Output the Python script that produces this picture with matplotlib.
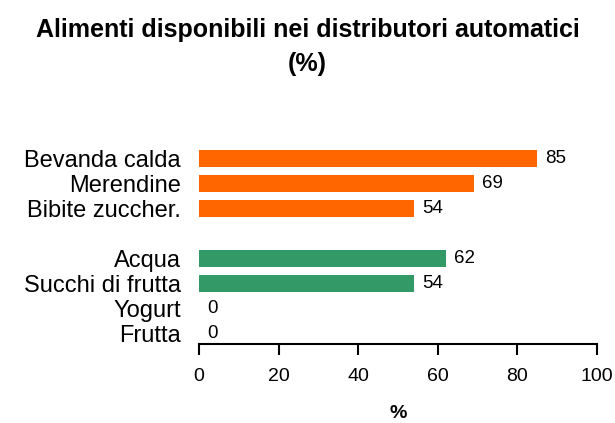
import matplotlib
matplotlib.use("Agg")
import matplotlib.pyplot as plt

categories = ["Bevanda calda", "Merendine", "Bibite zuccher.", "Acqua", "Succhi di frutta", "Yogurt", "Frutta"]
values = [85, 69, 54, 62, 54, 0, 0]
colors = ["#FF6600", "#FF6600", "#FF6600", "#339966", "#339966", "#339966", "#339966"]
positions = [0, 1, 2, 4, 5, 6, 7]
xticks = [0, 20, 40, 60, 80, 100]

plt.rcParams['font.family'] = ['Liberation Sans', 'DejaVu Sans']

fig = plt.figure(figsize=(6.15, 4.23), dpi=100)
ax = fig.add_axes([0.3236, 0.1868, 0.6471, 0.4728])

ax.barh(positions, values, height=0.68, color=colors)
for p, v in zip(positions, values):
    ax.text(v + 2, p, f"{v}", va="center", ha="left", fontsize=13.5)

ax.set_ylim(7.4, -0.6)
ax.set_xlim(0, 100)
ax.set_yticks(positions)
ax.set_yticklabels(categories, fontsize=17)
ax.tick_params(axis="y", length=0, pad=13)
ax.set_xticks(xticks)
ax.set_xticklabels([str(t) for t in xticks], fontsize=14)
ax.tick_params(axis="x", length=8, width=1.5, direction="out", pad=9)
for s in ["top", "right", "left"]:
    ax.spines[s].set_visible(False)
ax.spines["bottom"].set_linewidth(1.5)
ax.set_xlabel("%", fontsize=14, fontweight="bold", labelpad=15)

fig.text(0.5, 0.93, "Alimenti disponibili nei distributori automatici", ha="center", va="center",
         fontsize=18, fontweight="bold")
fig.text(0.5, 0.848, "(%)", ha="center", va="center", fontsize=18, fontweight="bold")

fig.savefig("out.png", dpi=100)
